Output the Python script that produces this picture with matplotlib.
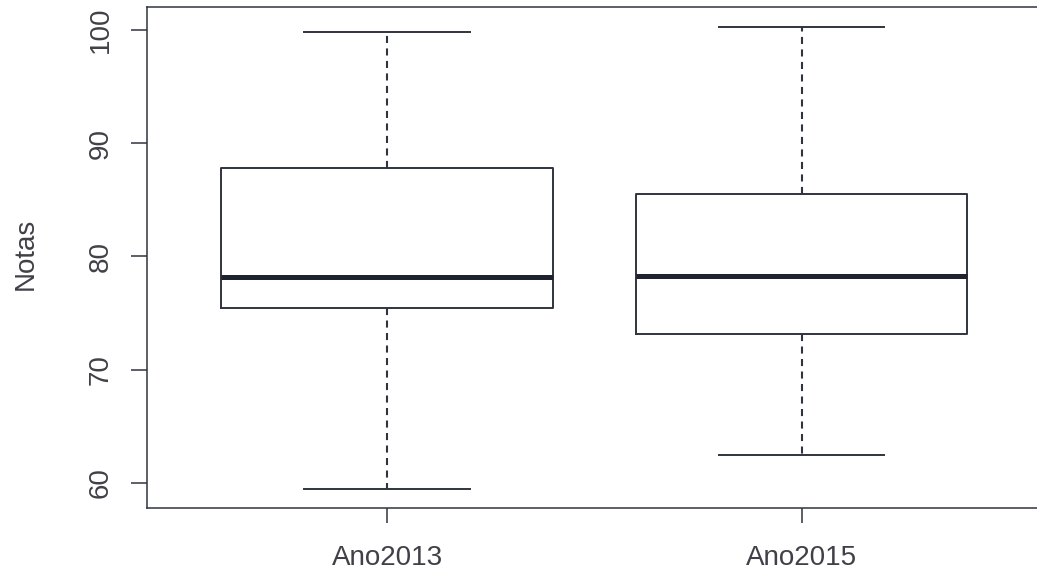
import matplotlib
matplotlib.use("Agg")
import matplotlib.pyplot as plt

# Summary statistics of the exam grades for each year
categories = ["Ano2013", "Ano2015"]
whisker_low = [59.5, 62.5]
q1 = [75.45, 73.2]
median = [78.2, 78.3]
q3 = [87.8, 85.5]
whisker_high = [99.8, 100.3]
yticks = [60, 70, 80, 90, 100]

W, H, DPI = 1037, 571, 100
plt.rcParams["font.family"] = ["Liberation Sans", "DejaVu Sans"]

line_col = "#30343f"
med_col = "#1f2330"
text_col = "#404048"

fig = plt.figure(figsize=(W / DPI, H / DPI), dpi=DPI)
fig.patch.set_facecolor("white")

# plot region in pixels (right edge runs just past the canvas)
left_px, right_px, top_px, bottom_px = 146.7, 1042.0, 6.5, 507.5
ax = fig.add_axes([left_px / W, 1 - bottom_px / H,
                   (right_px - left_px) / W, (bottom_px - top_px) / H])

stats = []
for name, lo, a, m, b, hi in zip(categories, whisker_low, q1, median, q3, whisker_high):
    stats.append(dict(label=name, whislo=lo, q1=a, med=m, q3=b, whishi=hi, fliers=[]))

positions = list(range(1, len(categories) + 1))
ax.bxp(stats, positions=positions, widths=0.8, showfliers=False,
       boxprops=dict(color=line_col, linewidth=1.4),
       whiskerprops=dict(color=line_col, linewidth=1.5, linestyle=(0, (3.4, 2.6))),
       capprops=dict(color=line_col, linewidth=1.4),
       medianprops=dict(color=med_col, linewidth=3.6, solid_capstyle="butt"),
       capwidths=0.4)

ax.set_xlim(0.42, 2.58)
ax.set_ylim(57.84, 102.07)
ax.set_yticks(yticks)
ax.set_yticklabels([str(v) for v in yticks], rotation=90, va="center")
ax.set_xticks(positions)
ax.set_xticklabels(categories)

for s in ["left", "top", "bottom"]:
    ax.spines[s].set_color(line_col)
    ax.spines[s].set_linewidth(1.1)
ax.spines["right"].set_visible(False)

ax.tick_params(axis="y", length=11.5, width=1.1, color=line_col,
               labelsize=20, labelcolor=text_col, pad=12)
ax.tick_params(axis="x", length=11, width=1.1, color=line_col,
               labelsize=20, labelcolor=text_col, pad=16)

fig.text(26 / W, 1 - 254 / H, "Notas", rotation=90, ha="center", va="center",
         fontsize=20, color=text_col)

fig.savefig("out.png", dpi=DPI, facecolor="white")
